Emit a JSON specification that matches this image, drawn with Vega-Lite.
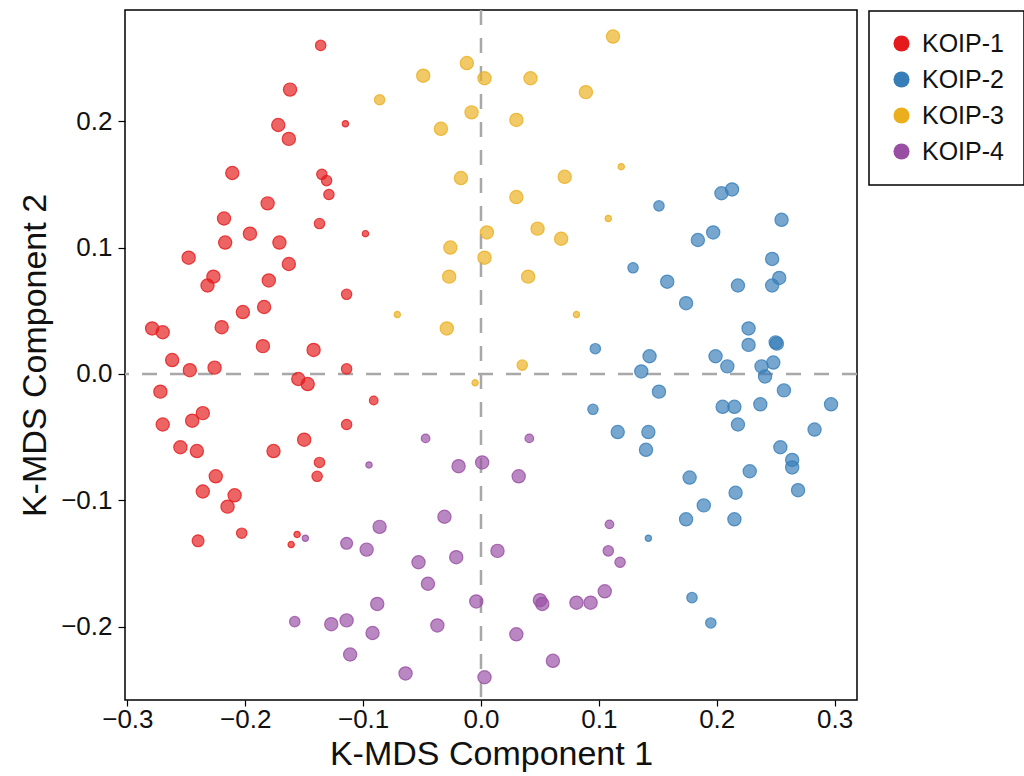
{
  "$schema": "https://vega.github.io/schema/vega-lite/v6.json",
  "width": 732,
  "height": 690,
  "autosize": {"type": "none"},
  "padding": {"left": 125, "top": 10, "right": 167, "bottom": 76},
  "background": "white",
  "config": {
    "view": {"stroke": "black", "strokeWidth": 1.5},
    "font": "Liberation Sans",
    "axis": {
      "grid": false,
      "domain": false,
      "tickColor": "black",
      "tickWidth": 1.2,
      "labelColor": "#111111",
      "labelFont": "Liberation Sans",
      "labelFontSize": 26,
      "titleFont": "Liberation Sans",
      "titleFontSize": 34,
      "titleFontWeight": "normal",
      "titleColor": "#111111"
    },
    "legend": {
      "orient": "none",
      "legendX": 744,
      "legendY": 1,
      "strokeColor": "black",
      "strokeWidth": 1.5,
      "fillColor": "white",
      "padding": 20,
      "cornerRadius": 0,
      "symbolType": "circle",
      "symbolSize": 260,
      "symbolOpacity": 1,
      "symbolStrokeWidth": 0,
      "labelFont": "Liberation Sans",
      "labelFontSize": 25,
      "labelColor": "#111111",
      "labelOffset": 8,
      "rowPadding": 10
    }
  },
  "layer": [
    {
      "data": {"values": [{"v": 0}]},
      "mark": {"type": "rule", "color": "#A8A8A8", "strokeWidth": 2.5, "strokeDash": [15, 13]},
      "encoding": {"x": {"field": "v", "type": "quantitative", "scale": {"domain": [-0.302, 0.319], "nice": false, "zero": false}}}
    },
    {
      "data": {"values": [{"v": 0}]},
      "mark": {"type": "rule", "color": "#A8A8A8", "strokeWidth": 2.5, "strokeDash": [15, 13]},
      "encoding": {"y": {"field": "v", "type": "quantitative", "scale": {"domain": [-0.258, 0.288], "nice": false, "zero": false}}}
    },
    {
      "data": {"values": [
        {"g":"KOIP-1","x":-0.136,"y":0.260,"w":2},
        {"g":"KOIP-1","x":-0.162,"y":0.225,"w":3},
        {"g":"KOIP-1","x":-0.115,"y":0.198,"w":1},
        {"g":"KOIP-1","x":-0.172,"y":0.197,"w":3},
        {"g":"KOIP-1","x":-0.163,"y":0.186,"w":3},
        {"g":"KOIP-1","x":-0.211,"y":0.159,"w":3},
        {"g":"KOIP-1","x":-0.135,"y":0.158,"w":2},
        {"g":"KOIP-1","x":-0.131,"y":0.153,"w":2},
        {"g":"KOIP-1","x":-0.129,"y":0.142,"w":2},
        {"g":"KOIP-1","x":-0.181,"y":0.135,"w":3},
        {"g":"KOIP-1","x":-0.218,"y":0.123,"w":3},
        {"g":"KOIP-1","x":-0.137,"y":0.119,"w":2},
        {"g":"KOIP-1","x":-0.098,"y":0.111,"w":1},
        {"g":"KOIP-1","x":-0.196,"y":0.111,"w":3},
        {"g":"KOIP-1","x":-0.217,"y":0.104,"w":3},
        {"g":"KOIP-1","x":-0.171,"y":0.104,"w":3},
        {"g":"KOIP-1","x":-0.248,"y":0.092,"w":3},
        {"g":"KOIP-1","x":-0.163,"y":0.087,"w":3},
        {"g":"KOIP-1","x":-0.227,"y":0.077,"w":3},
        {"g":"KOIP-1","x":-0.232,"y":0.070,"w":3},
        {"g":"KOIP-1","x":-0.180,"y":0.074,"w":3},
        {"g":"KOIP-1","x":-0.114,"y":0.063,"w":2},
        {"g":"KOIP-1","x":-0.202,"y":0.049,"w":3},
        {"g":"KOIP-1","x":-0.184,"y":0.053,"w":3},
        {"g":"KOIP-1","x":-0.279,"y":0.036,"w":3},
        {"g":"KOIP-1","x":-0.270,"y":0.033,"w":3},
        {"g":"KOIP-1","x":-0.220,"y":0.037,"w":3},
        {"g":"KOIP-1","x":-0.185,"y":0.022,"w":3},
        {"g":"KOIP-1","x":-0.142,"y":0.019,"w":3},
        {"g":"KOIP-1","x":-0.262,"y":0.011,"w":3},
        {"g":"KOIP-1","x":-0.247,"y":0.003,"w":3},
        {"g":"KOIP-1","x":-0.226,"y":0.005,"w":3},
        {"g":"KOIP-1","x":-0.114,"y":0.004,"w":2},
        {"g":"KOIP-1","x":-0.155,"y":-0.004,"w":3},
        {"g":"KOIP-1","x":-0.147,"y":-0.008,"w":3},
        {"g":"KOIP-1","x":-0.272,"y":-0.014,"w":3},
        {"g":"KOIP-1","x":-0.091,"y":-0.021,"w":1.5},
        {"g":"KOIP-1","x":-0.236,"y":-0.031,"w":3},
        {"g":"KOIP-1","x":-0.245,"y":-0.037,"w":3},
        {"g":"KOIP-1","x":-0.270,"y":-0.040,"w":3},
        {"g":"KOIP-1","x":-0.114,"y":-0.040,"w":2},
        {"g":"KOIP-1","x":-0.150,"y":-0.052,"w":3},
        {"g":"KOIP-1","x":-0.255,"y":-0.058,"w":3},
        {"g":"KOIP-1","x":-0.241,"y":-0.061,"w":3},
        {"g":"KOIP-1","x":-0.176,"y":-0.061,"w":3},
        {"g":"KOIP-1","x":-0.137,"y":-0.070,"w":2},
        {"g":"KOIP-1","x":-0.139,"y":-0.081,"w":2},
        {"g":"KOIP-1","x":-0.225,"y":-0.081,"w":3},
        {"g":"KOIP-1","x":-0.236,"y":-0.093,"w":3},
        {"g":"KOIP-1","x":-0.209,"y":-0.096,"w":3},
        {"g":"KOIP-1","x":-0.215,"y":-0.105,"w":3},
        {"g":"KOIP-1","x":-0.203,"y":-0.126,"w":2},
        {"g":"KOIP-1","x":-0.240,"y":-0.132,"w":2.5},
        {"g":"KOIP-1","x":-0.156,"y":-0.127,"w":1},
        {"g":"KOIP-1","x":-0.161,"y":-0.135,"w":1},
        {"g":"KOIP-2","x":0.151,"y":0.133,"w":2},
        {"g":"KOIP-2","x":0.204,"y":0.143,"w":3},
        {"g":"KOIP-2","x":0.213,"y":0.146,"w":3},
        {"g":"KOIP-2","x":0.255,"y":0.122,"w":3},
        {"g":"KOIP-2","x":0.184,"y":0.106,"w":3},
        {"g":"KOIP-2","x":0.197,"y":0.112,"w":3},
        {"g":"KOIP-2","x":0.247,"y":0.091,"w":3},
        {"g":"KOIP-2","x":0.253,"y":0.076,"w":3},
        {"g":"KOIP-2","x":0.247,"y":0.070,"w":3},
        {"g":"KOIP-2","x":0.129,"y":0.084,"w":2},
        {"g":"KOIP-2","x":0.158,"y":0.073,"w":3},
        {"g":"KOIP-2","x":0.218,"y":0.070,"w":3},
        {"g":"KOIP-2","x":0.174,"y":0.056,"w":3},
        {"g":"KOIP-2","x":0.227,"y":0.036,"w":3},
        {"g":"KOIP-2","x":0.227,"y":0.023,"w":3},
        {"g":"KOIP-2","x":0.250,"y":0.025,"w":3},
        {"g":"KOIP-2","x":0.251,"y":0.024,"w":3},
        {"g":"KOIP-2","x":0.097,"y":0.020,"w":2},
        {"g":"KOIP-2","x":0.143,"y":0.014,"w":3},
        {"g":"KOIP-2","x":0.199,"y":0.014,"w":3},
        {"g":"KOIP-2","x":0.209,"y":0.006,"w":3},
        {"g":"KOIP-2","x":0.238,"y":0.006,"w":3},
        {"g":"KOIP-2","x":0.248,"y":0.009,"w":3},
        {"g":"KOIP-2","x":0.136,"y":0.002,"w":3},
        {"g":"KOIP-2","x":0.241,"y":-0.002,"w":3},
        {"g":"KOIP-2","x":0.151,"y":-0.014,"w":3},
        {"g":"KOIP-2","x":0.095,"y":-0.028,"w":2},
        {"g":"KOIP-2","x":0.116,"y":-0.046,"w":3},
        {"g":"KOIP-2","x":0.142,"y":-0.046,"w":3},
        {"g":"KOIP-2","x":0.140,"y":-0.060,"w":3},
        {"g":"KOIP-2","x":0.177,"y":-0.082,"w":3},
        {"g":"KOIP-2","x":0.189,"y":-0.104,"w":3},
        {"g":"KOIP-2","x":0.174,"y":-0.115,"w":3},
        {"g":"KOIP-2","x":0.142,"y":-0.130,"w":1},
        {"g":"KOIP-2","x":0.179,"y":-0.177,"w":2},
        {"g":"KOIP-2","x":0.195,"y":-0.197,"w":2},
        {"g":"KOIP-2","x":0.205,"y":-0.026,"w":3},
        {"g":"KOIP-2","x":0.215,"y":-0.026,"w":3},
        {"g":"KOIP-2","x":0.218,"y":-0.040,"w":3},
        {"g":"KOIP-2","x":0.237,"y":-0.024,"w":3},
        {"g":"KOIP-2","x":0.257,"y":-0.013,"w":3},
        {"g":"KOIP-2","x":0.297,"y":-0.024,"w":3},
        {"g":"KOIP-2","x":0.283,"y":-0.044,"w":3},
        {"g":"KOIP-2","x":0.254,"y":-0.058,"w":3},
        {"g":"KOIP-2","x":0.264,"y":-0.068,"w":3},
        {"g":"KOIP-2","x":0.264,"y":-0.074,"w":3},
        {"g":"KOIP-2","x":0.228,"y":-0.077,"w":3},
        {"g":"KOIP-2","x":0.216,"y":-0.094,"w":3},
        {"g":"KOIP-2","x":0.269,"y":-0.092,"w":3},
        {"g":"KOIP-2","x":0.215,"y":-0.115,"w":3},
        {"g":"KOIP-3","x":0.112,"y":0.267,"w":3},
        {"g":"KOIP-3","x":-0.012,"y":0.246,"w":3},
        {"g":"KOIP-3","x":-0.049,"y":0.236,"w":3},
        {"g":"KOIP-3","x":0.003,"y":0.234,"w":3},
        {"g":"KOIP-3","x":0.042,"y":0.234,"w":3},
        {"g":"KOIP-3","x":0.089,"y":0.223,"w":3},
        {"g":"KOIP-3","x":-0.086,"y":0.217,"w":2},
        {"g":"KOIP-3","x":-0.008,"y":0.207,"w":3},
        {"g":"KOIP-3","x":0.030,"y":0.201,"w":3},
        {"g":"KOIP-3","x":-0.034,"y":0.194,"w":3},
        {"g":"KOIP-3","x":0.119,"y":0.164,"w":1},
        {"g":"KOIP-3","x":-0.017,"y":0.155,"w":3},
        {"g":"KOIP-3","x":0.071,"y":0.156,"w":3},
        {"g":"KOIP-3","x":0.030,"y":0.140,"w":3},
        {"g":"KOIP-3","x":0.108,"y":0.123,"w":1},
        {"g":"KOIP-3","x":0.048,"y":0.115,"w":3},
        {"g":"KOIP-3","x":0.005,"y":0.112,"w":3},
        {"g":"KOIP-3","x":0.068,"y":0.107,"w":3},
        {"g":"KOIP-3","x":-0.026,"y":0.100,"w":3},
        {"g":"KOIP-3","x":0.003,"y":0.092,"w":3},
        {"g":"KOIP-3","x":-0.027,"y":0.077,"w":3},
        {"g":"KOIP-3","x":0.040,"y":0.077,"w":3},
        {"g":"KOIP-3","x":-0.071,"y":0.047,"w":1},
        {"g":"KOIP-3","x":0.081,"y":0.047,"w":1},
        {"g":"KOIP-3","x":-0.029,"y":0.036,"w":3},
        {"g":"KOIP-3","x":0.035,"y":0.007,"w":2},
        {"g":"KOIP-3","x":-0.005,"y":-0.007,"w":1},
        {"g":"KOIP-4","x":-0.047,"y":-0.051,"w":1.5},
        {"g":"KOIP-4","x":-0.095,"y":-0.072,"w":1},
        {"g":"KOIP-4","x":-0.019,"y":-0.073,"w":3},
        {"g":"KOIP-4","x":0.001,"y":-0.070,"w":3},
        {"g":"KOIP-4","x":-0.031,"y":-0.113,"w":3},
        {"g":"KOIP-4","x":-0.086,"y":-0.121,"w":3},
        {"g":"KOIP-4","x":-0.114,"y":-0.134,"w":2.5},
        {"g":"KOIP-4","x":-0.097,"y":-0.139,"w":3},
        {"g":"KOIP-4","x":0.014,"y":-0.140,"w":3},
        {"g":"KOIP-4","x":-0.021,"y":-0.145,"w":3},
        {"g":"KOIP-4","x":-0.053,"y":-0.149,"w":3},
        {"g":"KOIP-4","x":-0.045,"y":-0.166,"w":3},
        {"g":"KOIP-4","x":-0.004,"y":-0.180,"w":3},
        {"g":"KOIP-4","x":-0.088,"y":-0.182,"w":3},
        {"g":"KOIP-4","x":-0.158,"y":-0.196,"w":2},
        {"g":"KOIP-4","x":-0.127,"y":-0.198,"w":3},
        {"g":"KOIP-4","x":-0.114,"y":-0.195,"w":3},
        {"g":"KOIP-4","x":-0.037,"y":-0.199,"w":3},
        {"g":"KOIP-4","x":-0.092,"y":-0.205,"w":3},
        {"g":"KOIP-4","x":-0.111,"y":-0.222,"w":3},
        {"g":"KOIP-4","x":-0.064,"y":-0.237,"w":3},
        {"g":"KOIP-4","x":0.003,"y":-0.240,"w":3},
        {"g":"KOIP-4","x":0.041,"y":-0.051,"w":1.5},
        {"g":"KOIP-4","x":0.032,"y":-0.081,"w":3},
        {"g":"KOIP-4","x":0.109,"y":-0.119,"w":1.5},
        {"g":"KOIP-4","x":0.108,"y":-0.140,"w":2},
        {"g":"KOIP-4","x":0.118,"y":-0.149,"w":2},
        {"g":"KOIP-4","x":0.050,"y":-0.179,"w":3},
        {"g":"KOIP-4","x":0.052,"y":-0.182,"w":3},
        {"g":"KOIP-4","x":0.081,"y":-0.181,"w":3},
        {"g":"KOIP-4","x":0.093,"y":-0.181,"w":3},
        {"g":"KOIP-4","x":0.105,"y":-0.172,"w":3},
        {"g":"KOIP-4","x":0.030,"y":-0.206,"w":3},
        {"g":"KOIP-4","x":0.061,"y":-0.227,"w":3},
        {"g":"KOIP-4","x":-0.149,"y":-0.130,"w":1}
      ]},
      "mark": {"type": "point", "filled": true, "fillOpacity": 0.68, "strokeOpacity": 0.8, "strokeWidth": 1.2},
      "encoding": {
        "x": {"field": "x", "type": "quantitative",
          "scale": {"domain": [-0.302, 0.319], "nice": false, "zero": false},
          "axis": {"title": "K-MDS Component 1", "values": [-0.3, -0.2, -0.1, 0, 0.1, 0.2, 0.3], "format": ".1f", "tickSize": 6, "labelPadding": 0, "titlePadding": 5}},
        "y": {"field": "y", "type": "quantitative",
          "scale": {"domain": [-0.258, 0.288], "nice": false, "zero": false},
          "axis": {"title": "K-MDS Component 2", "values": [-0.2, -0.1, 0, 0.1, 0.2], "format": ".1f", "tickSize": 7, "labelPadding": 6, "titlePadding": 8}},
        "color": {"field": "g", "type": "nominal",
          "scale": {"domain": ["KOIP-1", "KOIP-2", "KOIP-3", "KOIP-4"], "range": ["#E41A1C", "#377EB8", "#EBAF1E", "#984EA3"]},
          "legend": {"title": null}},
        "stroke": {"field": "g", "type": "nominal",
          "scale": {"domain": ["KOIP-1", "KOIP-2", "KOIP-3", "KOIP-4"], "range": ["#E41A1C", "#377EB8", "#EBAF1E", "#984EA3"]},
          "legend": null},
        "size": {"field": "w", "type": "quantitative", "scale": {"domain": [1, 3], "range": [40, 175]}, "legend": null},
        "shape": {"value": "circle"}
      }
    }
  ]
}
